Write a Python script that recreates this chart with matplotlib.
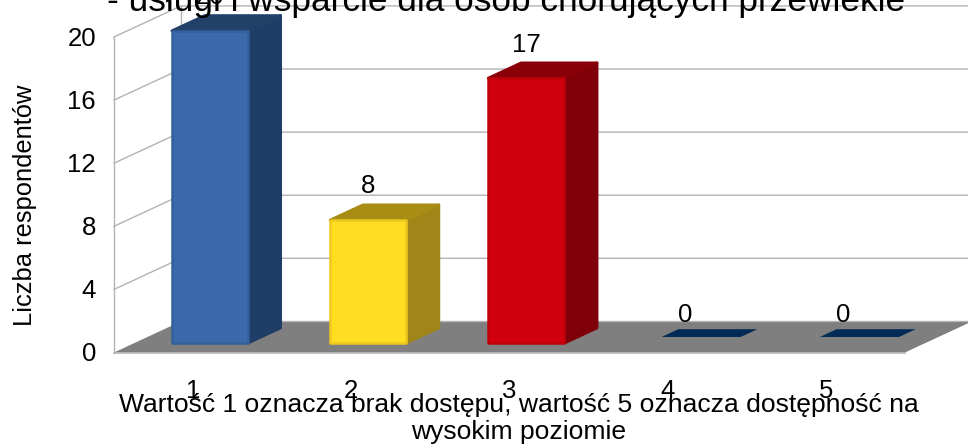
import matplotlib
matplotlib.use("Agg")
import matplotlib.pyplot as plt
from matplotlib.patches import Polygon

categories = ["1", "2", "3", "4", "5"]
values = [20, 8, 17, 0, 0]
y_ticks = [0, 4, 8, 12, 16, 20]
front_colors = ["#3a6aac", "#ffdd20", "#d2000d", "#002b57", "#002b57"]
front_edges = ["#34609c", "#eec81e", "#c0000c", "#002b57", "#002b57"]
side_colors = ["#1f3d66", "#a08518", "#7f0008", "#002b57", "#002b57"]
top_colors = ["#234069", "#a88c14", "#8a0009", "#002b57", "#002b57"]
title = "- usługi i wsparcie dla osób chorujących przewlekle"
xlabel = "Wartość 1 oznacza brak dostępu, wartość 5 oznacza dostępność na\nwysokim poziomie"
ylabel = "Liczba respondentów"

W, H = 968, 444
plt.rcParams["font.family"] = ["Liberation Sans", "DejaVu Sans"]
fig = plt.figure(figsize=(W / 100, H / 100), dpi=100)
ax = fig.add_axes([114 / W, 1 - 352.5 / H, (905 - 114) / W, 315.5 / H])
ax.set_xlim(0.5, 5.5)
ax.set_ylim(0, 20)
ax.axis("off")

DX, DY = 0.4235, 1.97  # full depth of the 3-D box, in data units
GRID = "#b3b3b3"


def P(x, y, d):
    return (x + DX * d, y + DY * d)


def poly(pts, color, z, edge=None, lw=0.0):
    p = Polygon(pts, closed=True, facecolor=color, edgecolor=edge or color,
                linewidth=lw, joinstyle="round", zorder=z, clip_on=False)
    ax.add_patch(p)


L, R = 0.5, 5.5
# floor
poly([P(L, 0, 0), P(R, 0, 0), P(R, 0, 1), P(L, 0, 1)], "#7f7f7f", 1)
ax.plot([L, R], [0, 0], color=GRID, lw=1.2, zorder=1.5, clip_on=False)
ax.plot([P(L, 0, 1)[0], P(R, 0, 1)[0]], [DY, DY], color=GRID, lw=1.0, zorder=1.5, clip_on=False)

# walls and grid
ax.plot([L, L], [0, y_ticks[-1]], color=GRID, lw=1.0, zorder=0.5, clip_on=False)
ax.plot([P(L, 0, 1)[0]] * 2, [DY, y_ticks[-1] + DY], color=GRID, lw=1.0, zorder=0.5, clip_on=False)
for t in y_ticks[1:]:
    a, b, c = P(L, t, 0), P(L, t, 1), P(R, t, 1)
    ax.plot([a[0], b[0], c[0]], [a[1], b[1], c[1]], color=GRID, lw=1.0, zorder=0.5, clip_on=False)

# bars (rounded by wide round-join edges on slightly inset outlines)
half = 0.24
inset = 0.1
for i, v in enumerate(values):
    x = i + 1
    l, r = x - half, x + half
    if v == 0:
        poly([P(l - .01, 0, .5), P(r + .01, 0, .5), P(r + .01, 0, .75), P(l - .01, 0, .75)], front_colors[i], 3)
        continue
    f, b = 0.25, 0.74
    bot, top = inset, v - inset
    poly([P(r, bot, f), P(r, bot, b), P(r, top, b), P(r, top, f)], side_colors[i], 3, side_colors[i], 2.0)
    poly([P(l, top, f), P(r, top, f), P(r, top, b), P(l, top, b)], top_colors[i], 3, top_colors[i], 2.0)
    poly([P(l, bot, f), P(r, bot, f), P(r, top, f), P(l, top, f)], front_colors[i], 4, front_edges[i], 1.8)

# value labels
for i, v in enumerate(values):
    ax.annotate(str(v), (i + 1 + DX * 0.25, v + DY * 0.75), xytext=(0.5, 19 if v else 17),
                textcoords="offset pixels", ha="center", va="center_baseline",
                fontsize=18.5, color="black", zorder=6, annotation_clip=False)

# axis tick labels
for t in y_ticks:
    ax.annotate(str(t), (L, t), xytext=(-18, 1), textcoords="offset pixels", ha="right",
                va="center_baseline", fontsize=18.5, annotation_clip=False)
for i, c in enumerate(categories):
    ax.annotate(c, (i + 1, 0), xytext=(0, -36), textcoords="offset pixels", ha="center",
                va="center_baseline", fontsize=18.5, annotation_clip=False)

fig.text(519 / W, 1 - 418.5 / H, xlabel, ha="center", va="center", fontsize=19.05, linespacing=1.2, zorder=7)
fig.text(25 / W, 1 - 205 / H, ylabel, rotation=90, ha="center", va="center", fontsize=18.4)
fig.text(506 / W, 1 - 11.5 / H, title, ha="center", va="baseline", fontsize=25.4, zorder=8)

fig.savefig("out.png", dpi=100)
